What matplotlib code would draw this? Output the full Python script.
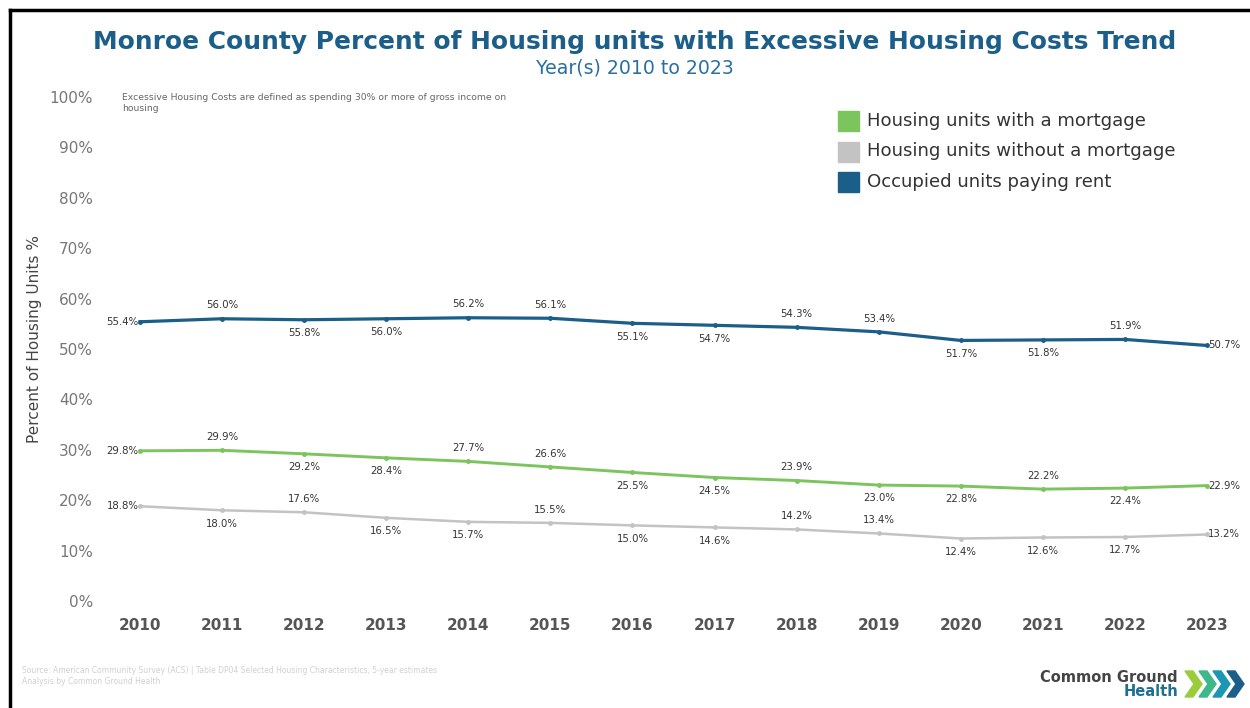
import matplotlib.pyplot as plt
from matplotlib.patches import Polygon, Rectangle
from matplotlib.lines import Line2D

years = [2010, 2011, 2012, 2013, 2014, 2015, 2016, 2017, 2018, 2019, 2020, 2021, 2022, 2023]
rent = [55.4, 56.0, 55.8, 56.0, 56.2, 56.1, 55.1, 54.7, 54.3, 53.4, 51.7, 51.8, 51.9, 50.7]
mortgage = [29.8, 29.9, 29.2, 28.4, 27.7, 26.6, 25.5, 24.5, 23.9, 23.0, 22.8, 22.2, 22.4, 22.9]
no_mortgage = [18.8, 18.0, 17.6, 16.5, 15.7, 15.5, 15.0, 14.6, 14.2, 13.4, 12.4, 12.6, 12.7, 13.2]
yticks = [0, 10, 20, 30, 40, 50, 60, 70, 80, 90, 100]

# label placement: l=left, r=right, a=above, b=below
rent_pos = "labbaabbaabbar"
mort_pos = "labbaabbabbabr"
nomort_pos = "lbabbabbaabbbr"

BLUE = "#1b5e89"
GREEN = "#7cc45e"
GRAY = "#c3c3c3"

fig = plt.figure(figsize=(12.5, 7.08), dpi=100)
W, H = 1250, 708
ax = fig.add_axes([140 / W, 107 / H, 1067 / W, 504 / H])
ax.set_xlim(2010, 2023)
ax.set_ylim(0, 100)
for s in ax.spines.values():
    s.set_visible(False)


def draw(vals, color, pos, lw):
    ax.plot(years, vals, color=color, lw=lw, marker="o", ms=2.5, clip_on=False, zorder=3)
    for x, v, p in zip(years, vals, pos):
        if p == "a":
            off, ha, va = (0, 6), "center", "bottom"
        elif p == "b":
            off, ha, va = (0, -6), "center", "top"
        elif p == "l":
            off, ha, va = (-1, 0), "right", "center"
        else:
            off, ha, va = (1, 0), "left", "center"
        ax.annotate(f"{v:.1f}%", (x, v), xytext=off, textcoords="offset points",
                    ha=ha, va=va, fontsize=7.3, color="#333333")


draw(rent, BLUE, rent_pos, 2.3)
draw(mortgage, GREEN, mort_pos, 2.1)
draw(no_mortgage, GRAY, nomort_pos, 1.8)

ax.set_xticks(years)
ax.set_xticklabels([str(y) for y in years], fontsize=11, fontweight="bold", color="#555555")
ax.set_yticks(yticks)
ax.set_yticklabels([f"{t}%" for t in yticks], fontsize=11, color="#777777")
ax.tick_params(axis="x", length=0, pad=12)
ax.tick_params(axis="y", length=0, pad=34)
ax.set_ylabel("Percent of Housing Units %", fontsize=11, color="#444444")
ax.yaxis.set_label_coords(-98 / 1067, 0.52)

# titles
fig.text(635 / W, 1 - 42 / H, "Monroe County Percent of Housing units with Excessive Housing Costs Trend",
         ha="center", va="center", fontsize=17.9, fontweight="bold", color=BLUE)
fig.text(635 / W, 1 - 68 / H, "Year(s) 2010 to 2023", ha="center", va="center", fontsize=13.6, color="#2a6fa0")
fig.text(122 / W, 1 - 93 / H,
         "Excessive Housing Costs are defined as spending 30% or more of gross income on\nhousing",
         ha="left", va="top", fontsize=6.7, color="#666666", linespacing=1.3)

# legend
legend_labels = ["Housing units with a mortgage", "Housing units without a mortgage", "Occupied units paying rent"]
legend_colors = [GREEN, GRAY, BLUE]
for i, (lab, c) in enumerate(zip(legend_labels, legend_colors)):
    yc = 121 + i * 30.5
    fig.patches.append(Rectangle((838 / W, 1 - (yc + 10) / H), 21 / W, 20 / H,
                                 transform=fig.transFigure, color=c))
    fig.text(867 / W, 1 - yc / H, lab, ha="left", va="center", fontsize=13.1, color="#333333")

# footer source
fig.text(22 / W, 1 - 676 / H,
         "Source: American Community Survey (ACS) | Table DP04 Selected Housing Characteristics, 5-year estimates\nAnalysis by Common Ground Health",
         ha="left", va="center", fontsize=5.5, color="#d0d0d0", linespacing=1.4)

# logo
fig.text(1178 / W, 1 - 677 / H, "Common Ground", ha="right", va="center", fontsize=10.5,
         fontweight="bold", color="#444444")
fig.text(1178 / W, 1 - 692 / H, "Health", ha="right", va="center", fontsize=10.5,
         fontweight="bold", color="#1f6f93")
chev_colors = ["#9acd3c", "#3cb88a", "#1d96b4", "#1b5e89"]
for i, c in enumerate(chev_colors):
    x0 = 1185 + i * 14
    pts = [(x0, 671), (x0 + 8, 671), (x0 + 17, 684), (x0 + 8, 697), (x0, 697), (x0 + 9, 684)]
    fig.patches.append(Polygon([(x / W, 1 - y / H) for x, y in pts], closed=True,
                               transform=fig.transFigure, color=c))

# frame border
fig.lines.append(Line2D([10 / W, 10 / W], [0, 1 - 10 / H], transform=fig.transFigure, color="black", lw=2.5))
fig.lines.append(Line2D([10 / W, 1], [1 - 10 / H, 1 - 10 / H], transform=fig.transFigure, color="black", lw=2.5))

fig.savefig("out.png", dpi=100, facecolor="white")
